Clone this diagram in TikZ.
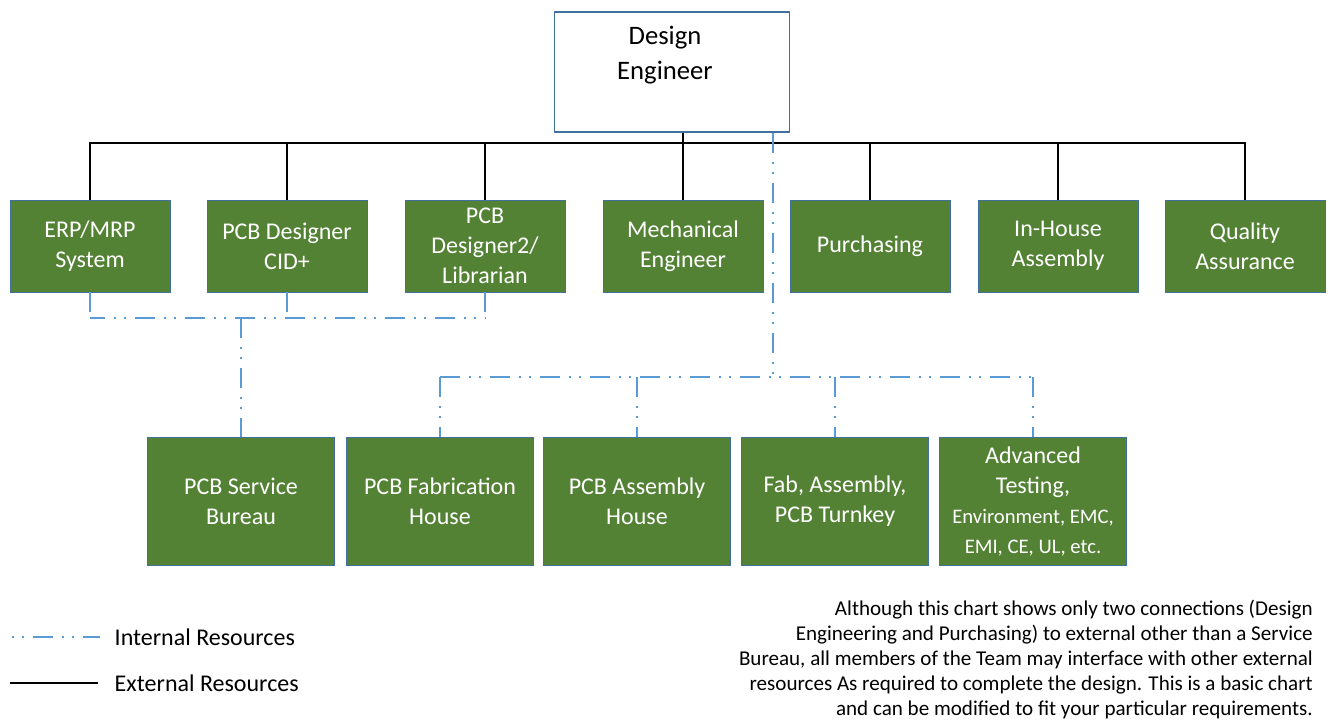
\documentclass[tikz,border=0pt]{standalone}
\usepackage{fontspec}
\setmainfont{Carlito}
\usetikzlibrary{positioning}
\definecolor{teamgreen}{RGB}{84,130,53}
\definecolor{edgeblue}{RGB}{65,113,156}
\definecolor{linkblue}{RGB}{91,155,213}
\tikzstyle{member} = [draw=edgeblue, line width=0.6pt, fill=teamgreen, text=white, minimum width=120pt, minimum height=69pt, align=center, inner sep=2pt, font=\fontsize{18}{22.5}\selectfont]
\tikzstyle{vendor} = [member, minimum width=140pt, minimum height=96pt]
\tikzstyle{external} = [draw=black, line width=0.8pt]
\tikzstyle{internal} = [draw=linkblue, line width=2pt, dash pattern=on 15pt off 7pt on 1.5pt off 6pt on 1.5pt off 6.5pt]
\newcommand{\finetext}{\fontsize{15.5}{17}\selectfont}

\begin{document}
\begin{tikzpicture}[x=0.75pt, y=-0.75pt]
\useasboundingbox (0,0) rectangle (1328,724);

% Design Engineer
\node[draw=edgeblue, line width=0.8pt, fill=white, minimum width=176pt, minimum height=90pt] (de) at (672,72) {};
\node[align=center, font=\fontsize{20}{26}\selectfont] (detext) at (665,55) {Design\\Engineer};

% Team members
\node[member] (erp)  at (90,246)   {ERP/MRP\\System};
\node[member] (cid)  at (287,246)  {PCB Designer\\CID+};
\node[member] (lib)  at (485,246)  {PCB\\Designer2/\\Librarian};
\node[member] (mech) at (683,246)  {Mechanical\\Engineer};
\node[member] (pur)  at (870,246)  {Purchasing};
\node[member] (inh)  at (1058,246) {In-House\\Assembly};
\node[member] (qa)   at (1245,246) {Quality\\Assurance};

% Outside vendors
\node[vendor] (sb)   at (241,501)  {PCB Service\\Bureau};
\node[vendor] (fab)  at (440,501)  {PCB Fabrication\\House};
\node[vendor] (asm)  at (637,501)  {PCB Assembly\\House};
\node[vendor] (turn) at (835,501)  {Fab, Assembly,\\PCB Turnkey};
\node[vendor] (adv)  at (1033,501) {Advanced\\Testing,\\\finetext Environment, EMC,\\\finetext EMI, CE, UL, etc.};

% External (solid) tree
\coordinate (bus) at (0,143);
\draw[external] (de.south -| mech) -- (mech.north);
\draw[external] (erp.north) -- (erp.north |- bus) -- (qa.north |- bus) -- (qa.north);
\foreach \n in {cid,lib,pur,inh}
    \draw[external] (\n.north) -- (\n.north |- bus);

% Internal (dash dot) links to vendors
\coordinate (tap) at (773,377);
\draw[internal] (de.south -| tap) -- (tap);
\draw[internal] (fab.north |- tap) -- (adv.north |- tap);
\foreach \n in {fab,asm,turn,adv}
    \draw[internal] (\n.north |- tap) -- (\n.north);

\coordinate (sbus) at (0,318);
\draw[internal, dash phase=4pt] (erp.south |- sbus) -- (lib.south |- sbus);
\foreach \n in {erp,cid,lib}
    \draw[internal] (\n.south) -- (\n.south |- sbus);
\draw[internal] (sb.north |- sbus) -- (sb.north);

% Legend
\coordinate (intA) at (12,637);
\coordinate (intB) at (100,637);
\coordinate (extA) at (10,683);
\coordinate (extB) at (98,683);
\draw[internal, dash phase=22pt] (intA) -- (intB);
\draw[external] (extA) -- (extB);
\node[anchor=west, font=\fontsize{18}{22}\selectfont] (intlabel) at (110,637) {Internal Resources};
\node[anchor=west, font=\fontsize{18}{22}\selectfont] (extlabel) at (110,683) {External Resources};

% Note
\node[anchor=north east, align=right, inner sep=0pt, font=\fontsize{15.8}{18.75}\selectfont] (note) at (1313,600)
    {Although this chart shows only two connections (Design\\
     Engineering and Purchasing) to external other than a Service\\
     Bureau, all members of the Team may interface with other external\\
     resources As required to complete the design. This is a basic chart\\
     and can be modified to fit your particular requirements.};
\end{tikzpicture}
\end{document}
